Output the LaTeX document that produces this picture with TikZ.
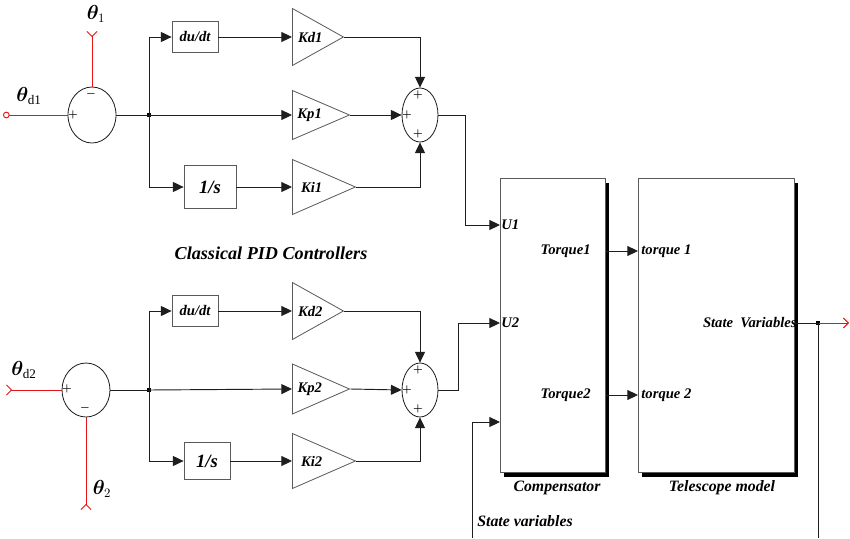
\documentclass[tikz,border=0pt]{standalone}
\usepackage{amsmath,amssymb}
\usepackage{bm}
\usepackage{fontspec}
\setmainfont{Liberation Serif}
\usetikzlibrary{arrows.meta,positioning,calc,shapes.geometric,shadows}
\definecolor{sig}{RGB}{230,20,20}
\definecolor{wire}{RGB}{30,30,30}
\definecolor{edge}{RGB}{90,90,90}

\begin{document}
\begin{tikzpicture}[x=0.3mm, y=-0.3mm,
  lbl/.style={font=\fontsize{12.5}{14}\selectfont\bfseries\itshape, inner sep=1pt},
  blkcap/.style={font=\fontsize{13.5}{15}\selectfont\bfseries\itshape, inner sep=1pt},
  ang/.style={font=\fontsize{16}{18}\selectfont, inner sep=1pt},
  sgn/.style={font=\small\boldmath, text=black, inner sep=0pt},
  blk/.style={draw=edge, line width=0.7pt, minimum width=13.8mm, minimum height=9.3mm, inner sep=1pt, font=\fontsize{12.5}{14}\selectfont\bfseries\itshape},
  gain/.style={draw=edge, line width=0.7pt, isosceles triangle, isosceles triangle stretches, shape border rotate=0, inner sep=0pt, anchor=lower side, font=\fontsize{12.5}{14}\selectfont\bfseries\itshape},
  sumc/.style={draw=wire, line width=0.7pt, ellipse, inner sep=0pt},
  big/.style={draw=edge, line width=0.7pt, fill=white, anchor=north west, minimum height=88.2mm,
    general shadow={fill=black, shadow xshift=1.2mm, shadow yshift=-1.3mm}},
  dot/.style={fill=black, inner sep=0pt, minimum size=1.3mm},
  wire/.style={draw=wire, line width=0.8pt},
  arr/.style={wire, -{Triangle[length=3.2mm, width=3mm]}},
  ref/.style={draw=sig, line width=0.8pt, -{Triangle[length=3.4mm, width=3mm, color=black]}},
]
  % loop 1
  \coordinate (bg0) at (0,0);
  \coordinate (bg1) at (850,538);
  \useasboundingbox (bg0) rectangle (bg1);
  \node[sumc, minimum width=14.4mm, minimum height=16.8mm] (e1) at (92,115) {};
  \node[sgn] (e1m) at (91,94) {$-$};
  \node[sgn] (e1p) at (73,115) {$+$};
  \coordinate (th1) at (92,31);
  \coordinate (thd1) at (3,115);
  \node[ang] (th1l) at (96,14) {$\bm{\theta}_{1}$};
  \node[ang] (thd1l) at (29,96) {$\bm{\theta}_{\mathrm{d1}}$};
  \draw[ref, {Straight Barb[reversed, length=1.5mm, width=3mm]}-] (th1) -- (e1.north);
  \draw[ref, {Circle[open, length=2mm]}-] (thd1) -- (e1.west);
  \node[dot] (j1) at (149,115) {};
  \node[blk] (dd1) at (195,37) {du/dt};
  \node[blk, minimum width=15.6mm, minimum height=12.9mm, font=\fontsize{16}{18}\selectfont\bfseries\itshape] (in1) at (210,187) {1/s};
  \node[gain, minimum height=15.3mm, minimum width=17.1mm] (kd1) at (292,37) {Kd1};
  \node[gain, minimum height=17.1mm, minimum width=14.7mm] (kp1) at (292,115) {Kp1};
  \node[gain, minimum height=18.9mm, minimum width=16.5mm] (ki1) at (292,187) {Ki1};
  \node[sumc, minimum width=10.8mm, minimum height=16.2mm] (s1) at (420,115) {};
  \node[sgn] (s1t) at (418,95) {$+$};
  \node[sgn] (s1l) at (407,115) {$+$};
  \node[sgn] (s1b) at (418,134) {$+$};
  \draw[wire] (e1.east) -- (j1.center);
  \draw[arr] (j1.center) |- (dd1.west);
  \draw[arr] (j1.center) |- (in1.west);
  \draw[arr] (j1.center) -- (kp1.lower side);
  \draw[arr] (dd1.east) -- (kd1.lower side);
  \draw[arr] (in1.east) -- (ki1.lower side);
  \draw[arr] (kd1.apex) -| (s1.north);
  \draw[arr] (kp1.apex) -- (s1.west);
  \draw[arr] (ki1.apex) -| (s1.south);

  \node[lbl, font=\fontsize{15.5}{17}\selectfont\bfseries\itshape] (pid) at (271,253) {Classical PID Controllers};

  % loop 2
  \node[sumc, minimum width=14.4mm, minimum height=16.2mm] (e2) at (86,390) {};
  \node[sgn] (e2p) at (67,389) {$+$};
  \node[sgn] (e2m) at (85,408) {$-$};
  \coordinate (th2) at (86,510);
  \coordinate (thd2) at (6,390);
  \node[ang] (th2l) at (102,489) {$\bm{\theta}_{2}$};
  \node[ang] (thd2l) at (24,370) {$\bm{\theta}_{\mathrm{d2}}$};
  \draw[ref, {Straight Barb[reversed, length=1.5mm, width=3mm]}-] (th2) -- (e2.south);
  \draw[ref, {Straight Barb[reversed, length=1.5mm, width=3mm]}-] (thd2) -- (e2.west);
  \node[dot] (j2) at (149,390) {};
  \node[blk] (dd2) at (195,311) {du/dt};
  \node[blk, minimum width=13.8mm, minimum height=11.1mm, font=\fontsize{16}{18}\selectfont\bfseries\itshape] (in2) at (207,461) {1/s};
  \node[gain, minimum height=15.3mm, minimum width=17.1mm] (kd2) at (292,311) {Kd2};
  \node[gain, minimum height=17.1mm, minimum width=15mm] (kp2) at (292,389) {Kp2};
  \node[gain, minimum height=18.9mm, minimum width=16.5mm] (ki2) at (292,461) {Ki2};
  \node[sumc, minimum width=10.8mm, minimum height=16.2mm] (s2) at (420,390) {};
  \node[sgn] (s2t) at (418,370) {$+$};
  \node[sgn] (s2l) at (407,390) {$+$};
  \node[sgn] (s2b) at (418,409) {$+$};
  \draw[wire] (e2.east) -- (j2.center);
  \draw[arr] (j2.center) |- (dd2.west);
  \draw[arr] (j2.center) |- (in2.west);
  \draw[arr] (j2.center) -- (kp2.lower side);
  \draw[arr] (dd2.east) -- (kd2.lower side);
  \draw[arr] (in2.east) -- (ki2.lower side);
  \draw[arr] (kd2.apex) -| (s2.north);
  \draw[arr] (kp2.apex) -- (s2.west);
  \draw[arr] (ki2.apex) -| (s2.south);

  % compensator and telescope
  \node[big, minimum width=31.5mm] (comp) at (500,178) {};
  \node[big, minimum width=46.8mm] (tele) at (638,178) {};
  \node[blkcap] (compl) at (557,488) {Compensator};
  \node[blkcap] (telel) at (722,488) {Telescope model};
  \coordinate (u1) at (500,225);
  \coordinate (u2) at (500,323);
  \coordinate (u3) at (500,422);
  \node[lbl, anchor=west] (u1l) at (u1) {U1};
  \node[lbl, anchor=west] (u2l) at (u2) {U2};
  \node[lbl, anchor=east] (tq1) at (592,251) {Torque1};
  \node[lbl, anchor=east] (tq2) at (592,395) {Torque2};
  \node[lbl, anchor=west] (tt1) at (640,251) {torque 1};
  \node[lbl, anchor=west] (tt2) at (640,395) {torque 2};
  \node[lbl, anchor=east] (svo) at (798,323) {State\ \ Variables};
  \draw[arr] (s1.east) -- ++(27,0) |- (u1);
  \draw[arr] (s2.east) -- ++(20,0) |- (u2);
  \draw[arr] (comp.east |- tq1) -- (tele.west |- tq1);
  \draw[arr] (comp.east |- tq2) -- (tele.west |- tq2);
  \node[dot] (j3) at (818,323) {};
  \coordinate (out) at (849,323);
  \coordinate (fb) at (818,538);
  \coordinate (svi) at (472,538);
  \draw[wire] (tele.east |- j3) -- (j3.center);
  \draw[draw=sig, line width=0.8pt, -{Straight Barb[length=1.5mm, width=3mm]}] (j3.center) -- (out);
  \draw[wire] (j3.center) -- (fb);
  \draw[arr] (svi) |- (u3);
  \node[blkcap] (svl) at (525,521) {State variables};
\end{tikzpicture}
\end{document}
